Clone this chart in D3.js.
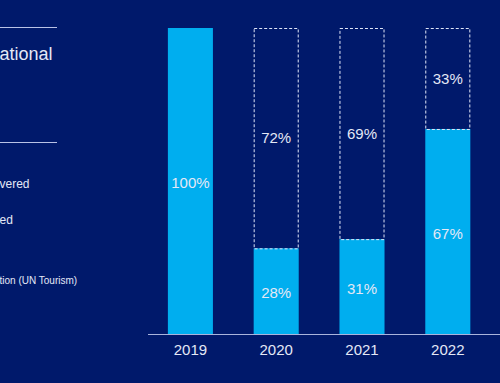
<!DOCTYPE html>
<html>
<head>
<meta charset="utf-8">
<script src="https://cdn.jsdelivr.net/npm/d3@7"></script>
<style>
  html, body { margin: 0; padding: 0; background: #00196b; }
  svg { display: block; }
</style>
</head>
<body>
<svg id="chart" width="500" height="383"></svg>
<script>
const years = ["2019", "2020", "2021", "2022"];
const recovered = [100, 28, 31, 67];
const remaining = [0, 72, 69, 33];
const sideTexts = ["ational", "vered", "ed", "tion (UN Tourism)"];

const W = 500, H = 383;
const svg = d3.select("#chart");
const font = "Liberation Sans, Arial, sans-serif";
const textColor = "#e4e8f6";

svg.append("rect").attr("width", W).attr("height", H).attr("fill", "#00196b");

// left panel (cropped)
svg.append("line").attr("x1", 0).attr("x2", 57).attr("y1", 27.5).attr("y2", 27.5)
  .attr("stroke", "#b9c2e6").attr("stroke-width", 1.2);
svg.append("line").attr("x1", 0).attr("x2", 57).attr("y1", 142.5).attr("y2", 142.5)
  .attr("stroke", "#b9c2e6").attr("stroke-width", 1.2);

const sideSpec = [
  { y: 60, size: 18 },
  { y: 188, size: 12 },
  { y: 224, size: 12 },
  { y: 283.5, size: 10 }
];
sideTexts.forEach((t, i) => {
  svg.append("text").attr("x", -0.5).attr("y", sideSpec[i].y)
    .attr("font-family", font).attr("font-size", sideSpec[i].size)
    .attr("fill", textColor).text(t);
});

const x = d3.scaleBand().domain(years).range([147.5, 490.7])
  .paddingInner(0.475).paddingOuter(0.2375);
const y = d3.scaleLinear().domain([0, 100]).range([334, 28]);

const data = years.map((yr, i) => ({ yr, rec: recovered[i], rem: remaining[i] }));

// recovered bars
svg.selectAll("rect.bar").data(data).enter().append("rect")
  .attr("class", "bar")
  .attr("x", d => x(d.yr))
  .attr("width", x.bandwidth())
  .attr("y", d => y(d.rec))
  .attr("height", d => y(0) - y(d.rec))
  .attr("fill", "#00aeef");

// dashed remaining boxes
svg.selectAll("rect.rem").data(data.filter(d => d.rem > 0)).enter().append("rect")
  .attr("class", "rem")
  .attr("x", d => x(d.yr) + 0.5)
  .attr("width", x.bandwidth() - 1)
  .attr("y", d => y(d.rec + d.rem) + 0.5)
  .attr("height", d => y(d.rec) - y(d.rec + d.rem))
  .attr("fill", "none")
  .attr("stroke", "#dfe5f7")
  .attr("stroke-width", 1)
  .attr("stroke-dasharray", "3,2");

// axis baseline
const xAxis = d3.axisBottom(x).tickSize(0).tickPadding(10);
const ax = svg.append("g").attr("transform", `translate(0,${y(0)})`).call(xAxis);
ax.select(".domain").remove();
svg.append("line").attr("x1", 148).attr("x2", 500).attr("y1", y(0) + 0.5).attr("y2", y(0) + 0.5)
  .attr("stroke", "#a9b4dc").attr("stroke-width", 1.2);
ax.selectAll("text").attr("font-family", font).attr("font-size", 15)
  .attr("fill", textColor).attr("dy", "0.71em");

// labels
svg.selectAll("text.recl").data(data).enter().append("text")
  .attr("class", "recl")
  .attr("x", d => x(d.yr) + x.bandwidth() / 2)
  .attr("y", d => (y(0) + y(d.rec)) / 2 + 2)
  .attr("dy", "0.35em")
  .attr("text-anchor", "middle")
  .attr("font-family", font).attr("font-size", 15)
  .attr("fill", textColor)
  .text(d => d.rec + "%");

svg.selectAll("text.reml").data(data.filter(d => d.rem > 0)).enter().append("text")
  .attr("class", "reml")
  .attr("x", d => x(d.yr) + x.bandwidth() / 2)
  .attr("y", d => (y(d.rec) + y(d.rec + d.rem)) / 2)
  .attr("dy", "0.35em")
  .attr("text-anchor", "middle")
  .attr("font-family", font).attr("font-size", 15)
  .attr("fill", textColor)
  .text(d => d.rem + "%");
</script>
</body>
</html>
